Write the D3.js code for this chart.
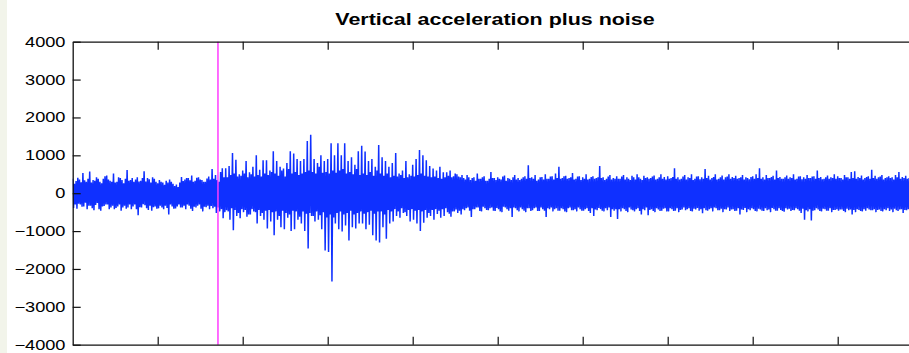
<!DOCTYPE html>
<html>
<head>
<meta charset="utf-8">
<script src="https://cdn.jsdelivr.net/npm/d3@7"></script>
<style>
  html, body { margin: 0; padding: 0; background: #ffffff; }
  svg { display: block; }
</style>
</head>
<body>
<svg id="chart" width="909" height="353"></svg>
<script>
// Vertical acceleration record (counts), one value every sampleStep samples.
const chartTitle = "Vertical acceleration plus noise";
const sampleStep = 10;
const timeExtent = [0, 10000];
const accelExtent = [-4000, 4000];
const yTickValues = [4000, 3000, 2000, 1000, 0, -1000, -2000, -3000, -4000];
const xTickValues = [1000, 2000, 3000, 4000, 5000, 6000, 7000, 8000, 9000];
const eventTime = 1709;

const accel = [
  380,-390,250,-300,320,-410,410,-280,360,-300,290,-360,530,-350,340,-250,300,-420,380,-330,
  570,-330,280,-400,350,-450,330,-310,420,-260,380,-420,300,-460,260,-350,380,-340,450,-300,
  470,-300,360,-420,330,-380,300,-330,520,-420,280,-390,300,-350,420,-300,400,-460,350,-380,
  260,-330,380,-410,610,-380,330,-300,350,-420,400,-350,300,-300,360,-420,420,-580,310,-370,
  330,-380,400,-290,580,-320,310,-400,400,-440,370,-330,280,-460,420,-370,380,-350,300,-410,
  260,-400,350,-330,300,-380,280,-420,220,-330,330,-390,280,-560,360,-300,300,-350,250,-410,
  190,-400,230,-350,160,-300,280,-380,430,-380,320,-330,360,-420,400,-300,400,-330,340,-410,
  470,-470,300,-360,330,-380,410,-330,420,-300,360,-410,350,-480,300,-360,300,-370,390,-330,
  440,-420,360,-340,640,-400,380,-360,480,-520,350,-380,300,-480,560,-420,660,-660,420,-500,
  660,-450,420,-480,720,-700,480,-400,1060,-980,520,-440,880,-600,440,-520,500,-660,460,-420,
  600,-500,520,-440,850,-620,420,-560,550,-560,500,-420,700,-480,440,-500,1000,-800,480,-440,
  620,-600,440,-520,870,-700,520,-460,870,-930,480,-440,600,-750,560,-500,1110,-1110,520,-480,
  850,-700,460,-600,700,-900,600,-460,650,-950,440,-520,800,-650,640,-560,1110,-1000,520,-460,
  1050,-950,560,-480,900,-700,480,-620,850,-800,520,-480,900,-1000,560,-540,1380,-1460,600,-520,
  1540,-600,560,-600,900,-750,520,-480,800,-700,700,-580,1000,-950,540,-500,850,-1510,560,-640,
  900,-1550,520,-560,1320,-2330,600,-640,1000,-800,540,-520,1320,-950,600,-480,1000,-1010,640,-560,
  1320,-850,520,-520,850,-1250,560,-460,950,-900,500,-560,750,-930,640,-520,1110,-800,480,-480,
  1250,-800,520,-540,1100,-950,480,-500,850,-830,560,-460,900,-1110,460,-540,700,-1250,600,-480,
  1270,-1300,520,-480,950,-900,460,-560,850,-1200,520,-440,700,-800,420,-480,800,-750,460,-420,
  1060,-600,440,-480,520,-650,480,-400,600,-520,400,-500,850,-600,420,-440,500,-750,460,-420,
  750,-700,440,-460,900,-800,480,-440,1140,-1000,520,-480,1000,-780,460,-440,870,-650,440,-520,
  720,-600,420,-440,650,-700,440,-420,600,-550,400,-460,700,-650,380,-420,550,-600,420,-400,
  550,-500,460,-540,600,-620,420,-480,450,-480,520,-430,500,-520,440,-460,420,-560,480,-420,
  400,-450,360,-400,480,-380,420,-460,350,-630,400,-420,420,-420,330,-380,520,-380,380,-470,
  380,-480,420,-360,450,-400,330,-440,330,-450,380,-400,560,-380,400,-460,400,-470,350,-390,
  420,-420,380,-480,360,-500,440,-360,470,-380,330,-420,400,-460,380,-400,350,-630,420,-380,
  480,-400,360,-450,400,-480,350,-380,380,-420,420,-460,450,-500,380,-400,740,-400,400,-470,
  420,-450,380,-400,480,-380,330,-470,360,-470,420,-380,430,-420,360,-460,500,-630,380,-400,
  380,-420,440,-380,450,-480,360,-420,520,-400,400,-460,700,-460,380,-400,400,-420,450,-480,
  460,-500,380,-400,400,-380,420,-450,530,-450,360,-420,380,-480,440,-380,450,-420,350,-460,
  420,-460,380,-420,500,-400,360,-470,380,-520,430,-400,450,-600,380,-430,400,-450,420,-390,
  720,-420,400,-460,420,-480,350,-400,380,-450,440,-380,480,-630,360,-420,400,-460,380,-420,
  450,-680,380,-420,380,-480,440,-400,480,-420,360,-470,420,-500,380,-380,350,-430,460,-450,
  420,-480,360,-420,500,-400,420,-470,380,-560,350,-420,460,-450,400,-380,420,-580,380,-440,
  400,-420,440,-470,470,-500,360,-400,380,-430,420,-470,500,-460,380,-410,430,-400,360,-480,
  450,-480,380,-400,400,-420,430,-470,660,-460,380,-400,420,-500,360,-440,380,-430,440,-380,
  480,-450,360,-420,420,-400,400,-470,500,-480,350,-410,380,-430,440,-390,450,-460,370,-420,
  420,-530,380,-400,640,-450,400,-460,460,-420,360,-400,400,-480,430,-380,500,-400,360,-450,
  380,-450,420,-410,470,-500,360,-420,420,-430,440,-380,500,-470,380,-430,430,-420,400,-470,
  460,-460,380,-400,400,-560,420,-430,480,-440,360,-390,420,-500,400,-420,370,-450,430,-400,
  450,-420,380,-470,500,-480,400,-410,660,-430,380,-460,420,-470,360,-400,480,-450,400,-430,
  400,-500,430,-390,460,-420,360,-460,600,-460,400,-400,430,-440,380,-470,380,-490,420,-400,
  470,-430,380,-410,420,-470,400,-440,500,-450,360,-400,380,-420,440,-460,450,-520,370,-410,
  420,-700,380,-450,480,-480,400,-420,400,-720,440,-460,450,-450,380,-400,600,-430,400,-470,
  430,-480,370,-410,380,-420,420,-460,470,-460,380,-400,420,-500,400,-440,500,-440,380,-420,
  450,-460,400,-430,400,-430,360,-470,480,-500,420,-410,420,-450,380,-430,560,-560,400,-440,
  580,-500,380,-420,430,-440,400,-470,470,-480,360,-420,400,-460,430,-400,450,-430,380,-450,
  620,-450,400,-420,460,-500,380,-440,420,-430,440,-470,480,-480,360,-420,400,-450,420,-400,
  450,-470,400,-430,420,-500,360,-410,480,-450,420,-470,560,-430,380,-420,430,-520,400,-440,
  460,-450,380,-420,400,-480,430,-400,450,-430,370,-460,420,-470,400,-430,480,-440,390,-410
];

// Layout
const plot = { left: 72.7, top: 41.7, right: 922.7, bottom: 344.7 };
const textStretch = 1.3;
const signalColor = "#0f30ff";
const eventColor = "#ff3cff";

const svg = d3.select("#chart");

// Light margin strip on the far left
svg.append("rect")
  .attr("x", 0).attr("y", 0).attr("width", 7).attr("height", 353)
  .attr("fill", "#f2f4ea");

const x = d3.scaleLinear().domain(timeExtent).range([plot.left, plot.right]);
const y = d3.scaleLinear().domain(accelExtent).range([plot.bottom, plot.top]);

svg.append("clipPath").attr("id", "plot-clip")
  .append("rect")
  .attr("x", plot.left).attr("y", plot.top)
  .attr("width", plot.right - plot.left).attr("height", plot.bottom - plot.top);

const samples = accel.map((v, i) => ({ t: i * sampleStep, v }));

const line = d3.line().x(d => x(d.t)).y(d => y(d.v));

svg.append("path")
  .datum(samples)
  .attr("clip-path", "url(#plot-clip)")
  .attr("fill", "none")
  .attr("stroke", signalColor)
  .attr("stroke-width", 1.5)
  .attr("stroke-linejoin", "bevel")
  .attr("d", line);

// Event marker
svg.append("line")
  .attr("x1", x(eventTime)).attr("x2", x(eventTime))
  .attr("y1", y(accelExtent[1])).attr("y2", y(accelExtent[0]))
  .attr("stroke", eventColor)
  .attr("stroke-width", 1.5);

// Axes with inward ticks
const axisStyle = g => {
  g.selectAll("path.domain").attr("stroke", "#111").attr("stroke-width", 1.3);
  g.selectAll(".tick line").attr("stroke", "#111").attr("stroke-width", 1.2);
  g.selectAll(".tick text").remove();
};

svg.append("g")
  .attr("transform", `translate(${plot.left},0)`)
  .call(d3.axisLeft(y).tickValues(yTickValues).tickSize(-8).tickSizeOuter(0))
  .call(axisStyle);

svg.append("g")
  .attr("transform", `translate(0,${plot.top})`)
  .call(d3.axisTop(x).tickValues(xTickValues).tickSize(-8).tickSizeOuter(0))
  .call(axisStyle);

svg.append("g")
  .attr("transform", `translate(0,${plot.bottom})`)
  .call(d3.axisBottom(x).tickValues(xTickValues).tickSize(-8).tickSizeOuter(0))
  .call(axisStyle);

svg.append("g")
  .attr("transform", `translate(${plot.right},0)`)
  .call(d3.axisRight(y).tickValues(yTickValues).tickSize(-8).tickSizeOuter(0))
  .call(axisStyle);

// Text, drawn horizontally widened
const textLayer = svg.append("g").attr("transform", `scale(${textStretch},1)`);

textLayer.selectAll("text.ylabel")
  .data(yTickValues)
  .join("text")
  .attr("class", "ylabel")
  .attr("x", 65.5 / textStretch)
  .attr("y", d => y(d))
  .attr("dy", "0.36em")
  .attr("text-anchor", "end")
  .attr("font-family", "'Liberation Sans', Arial, Helvetica, sans-serif")
  .attr("font-size", 14)
  .attr("fill", "#000")
  .text(d => d3.format("d")(d));

textLayer.append("text")
  .attr("x", 495 / textStretch)
  .attr("y", 25)
  .attr("text-anchor", "middle")
  .attr("font-family", "'Liberation Sans', Arial, Helvetica, sans-serif")
  .attr("font-weight", "bold")
  .attr("font-size", 16.5)
  .attr("fill", "#000")
  .text(chartTitle);
</script>
</body>
</html>
